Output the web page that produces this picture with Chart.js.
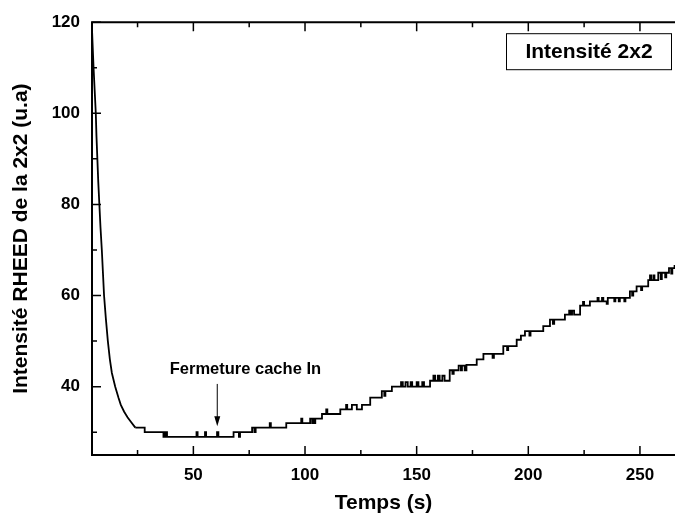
<!DOCTYPE html>
<html>
<head>
<meta charset="utf-8">
<script src="https://cdn.jsdelivr.net/npm/chart.js@4/dist/chart.umd.min.js"></script>
<style>
  html, body { margin: 0; padding: 0; background: #fff; }
  #wrap { width: 675px; height: 519px; }
</style>
</head>
<body>
<div id="wrap"><canvas id="myChart" width="675" height="519"></canvas></div>
<script>
// fast decay after opening (time s, intensity u.a)
const decay = [
  [4.4, 121], [4.8, 116], [5.3, 110], [5.8, 105], [6.3, 100], [6.6, 95],
  [7.0, 90], [7.4, 85], [7.9, 80], [8.4, 75], [9.0, 70], [9.5, 65],
  [10.0, 60], [10.8, 55], [11.7, 50], [12.6, 46], [13.5, 43], [15.0, 40],
  [16.5, 37.5], [17.5, 36], [19.0, 34.5], [20.5, 33.3], [22.0, 32.3], [24.0, 31],
];

// quantized RHEED signal: time where a level starts, level
const steps = [
  [24.0, 31], [28.2, 30], [36.6, 29], [37.0, 30], [37.4, 29], [37.8, 30], [38.2, 29],
  [51.4, 30], [51.9, 29], [55.2, 30], [55.7, 29], [60.6, 30], [61.2, 29],
  [68.0, 30], [70.4, 29], [70.9, 30],
  [76.3, 31], [77.3, 30], [77.9, 31], [84.2, 32], [84.7, 31],
  [91.6, 32], [98.3, 33], [98.8, 32],
  [102.3, 33], [103.2, 32], [103.6, 33], [104.0, 32], [104.6, 33],
  [107.6, 34], [109.5, 35], [110.0, 34],
  [115.8, 35], [118.4, 36], [118.9, 35],
  [121.0, 36], [123.2, 35], [125.5, 36], [129.2, 37.6], [134.4, 39], [135.5, 38], [136.0, 39],
  [138.9, 40], [143.0, 41], [143.8, 40], [145.0, 41], [146.0, 40], [147.3, 41], [148.0, 40],
  [150.0, 41], [150.8, 40], [152.5, 41], [153.3, 40],
  [156.0, 41.3], [157.5, 42.4], [158.3, 41.3], [159.5, 42.4], [160.3, 41.3], [161.5, 42.4], [162.5, 41.3],
  [164.8, 43.6], [166.0, 42.8], [166.6, 43.6], [168.8, 44.6], [169.8, 43.6], [170.3, 44.6], [171.5, 43.6], [172.3, 44.8],
  [176.9, 46.0], [179.9, 47.2], [184.0, 46.3], [184.6, 47.2],
  [188.8, 48.9], [190.5, 48.0], [191.0, 48.9],
  [194.8, 50.3], [196.7, 51.2], [198.5, 52.2], [200.5, 51.2], [201.0, 52.2],
  [206.7, 53.3], [209.7, 54.7], [211.0, 53.8], [211.6, 54.7],
  [216.4, 55.8], [218.3, 56.7], [219.0, 55.8], [219.6, 56.7], [220.5, 55.8],
  [223.2, 57.8], [224.5, 58.6], [225.0, 57.8], [227.6, 58.7],
  [231.0, 59.5], [231.5, 58.7], [233.0, 59.5], [233.6, 58.7],
  [235.1, 58.2], [235.6, 59.5], [238.5, 58.7], [239.0, 59.5], [240.5, 58.7], [241.0, 59.5], [243.0, 58.7], [243.5, 59.5],
  [245.5, 60.9], [246.5, 60.0], [247.0, 60.9],
  [248.5, 62.0], [250.5, 61.2], [251.0, 62.0],
  [253.7, 63.4], [254.5, 64.4], [255.0, 63.4], [256.0, 64.4], [256.5, 63.4],
  [258.2, 65.0], [259.3, 63.6], [259.8, 65.0], [261.3, 64.0], [261.8, 65.0],
  [263.0, 66.0], [264.0, 64.8], [264.5, 66.0], [265.5, 66.5], [267.0, 66.5],
];

const xTicks = [50, 100, 150, 200, 250];
const xMinor = [25, 75, 125, 175, 225];
const yTicks = [40, 60, 80, 100, 120];
const yMinor = [30, 50, 70, 90, 110];

const FONT = "'Liberation Sans', Arial, sans-serif";

// frame, inward ticks, legend box and the arrow note
const framePlugin = {
  id: "frame",
  afterDraw(chart) {
    const {ctx, chartArea: a, scales: {x, y}} = chart;
    ctx.save();
    ctx.strokeStyle = "#000";
    ctx.lineWidth = 2;
    ctx.beginPath();
    ctx.moveTo(a.right + 2, a.top);
    ctx.lineTo(a.left, a.top);
    ctx.lineTo(a.left, a.bottom);
    ctx.lineTo(a.right + 2, a.bottom);
    ctx.stroke();

    ctx.lineWidth = 1.5;
    ctx.beginPath();
    const tick = (v, len, isX) => {
      if (isX) {
        const px = x.getPixelForValue(v);
        ctx.moveTo(px, a.bottom); ctx.lineTo(px, a.bottom - len);
        ctx.moveTo(px, a.top); ctx.lineTo(px, a.top + len);
      } else {
        const py = y.getPixelForValue(v);
        ctx.moveTo(a.left, py); ctx.lineTo(a.left + len, py);
      }
    };
    xTicks.forEach(v => tick(v, 9, true));
    xMinor.forEach(v => tick(v, 5, true));
    yTicks.forEach(v => tick(v, 9, false));
    yMinor.forEach(v => tick(v, 5, false));
    ctx.stroke();

    // legend box
    ctx.lineWidth = 1;
    ctx.strokeRect(a.right - 168.5, a.top + 11.5, 165, 36);
    ctx.fillStyle = "#000";
    ctx.font = "bold 21px " + FONT;
    ctx.textAlign = "center";
    ctx.textBaseline = "middle";
    ctx.fillText("Intensité 2x2", a.right - 86, a.top + 30);

    // note + arrow
    ctx.font = "bold 16.5px " + FONT;
    ctx.fillText("Fermeture cache In", x.getPixelForValue(73.3), y.getPixelForValue(43.7));
    const ax = x.getPixelForValue(60.7);
    const y0 = y.getPixelForValue(40.6);
    const y1 = y.getPixelForValue(31.3);
    ctx.lineWidth = 1;
    ctx.beginPath();
    ctx.moveTo(ax, y0); ctx.lineTo(ax, y1 - 8);
    ctx.stroke();
    ctx.beginPath();
    ctx.moveTo(ax, y1); ctx.lineTo(ax - 3, y1 - 10); ctx.lineTo(ax + 3, y1 - 10);
    ctx.closePath();
    ctx.fill();
    ctx.restore();
  },
};

const ctx = document.getElementById("myChart");

new Chart(ctx, {
  type: "line",
  data: {
    datasets: [
      {
        label: "decay",
        data: decay.map(p => ({x: p[0], y: p[1]})),
        borderColor: "#000",
        borderWidth: 1.8,
        pointRadius: 0,
        tension: 0,
      },
      {
        label: "Intensité 2x2",
        data: steps.map(p => ({x: p[0], y: p[1]})),
        borderColor: "#000",
        borderWidth: 1.8,
        pointRadius: 0,
        stepped: "before",
      },
    ],
  },
  options: {
    responsive: false,
    animation: false,
    events: [],
    // top label half-height (10.2) is added on top of this
    layout: {padding: {top: 6.8, right: 0, left: 0, bottom: 0}},
    plugins: {legend: {display: false}, tooltip: {enabled: false}},
    scales: {
      x: {
        type: "linear",
        min: 4.6,
        max: 265.7,
        grid: {display: false, drawTicks: false},
        border: {display: false},
        afterBuildTicks: s => { s.ticks = xTicks.map(v => ({value: v})); },
        afterFit: s => { s.height = 64; },
        ticks: {color: "#000", padding: 10, maxRotation: 0, font: {family: FONT, size: 17, weight: "bold"}},
        title: {display: true, text: "Temps (s)", color: "#000", padding: {top: 3, bottom: 3},
                font: {family: FONT, size: 21, weight: "bold"}},
      },
      y: {
        min: 25,
        max: 120,
        grid: {display: false, drawTicks: false},
        border: {display: false},
        afterBuildTicks: s => { s.ticks = yTicks.map(v => ({value: v})); },
        afterFit: s => { s.width = 92; },
        ticks: {color: "#000", padding: 12, font: {family: FONT, size: 17, weight: "bold"}},
        title: {display: true, text: "Intensité RHEED de la 2x2 (u.a)", color: "#000", padding: {top: 9, bottom: 9},
                font: {family: FONT, size: 21, weight: "bold"}},
      },
    },
  },
  plugins: [framePlugin],
});
</script>
</body>
</html>
